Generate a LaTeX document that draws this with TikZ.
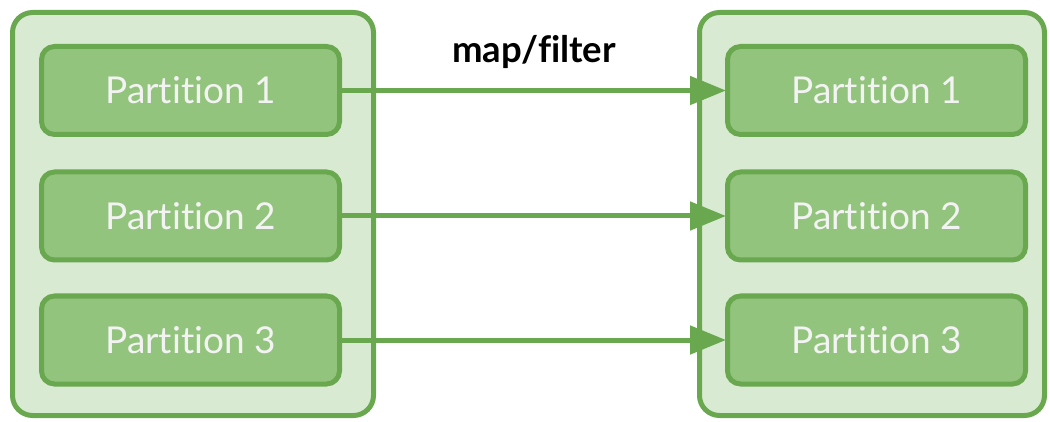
\documentclass[tikz,border=0pt]{standalone}
\usepackage{fontspec}
\setmainfont{Lato}[Ligatures=NoCommon]
\usetikzlibrary{arrows.meta}
\definecolor{edgegreen}{HTML}{6AA84F}
\definecolor{panelgreen}{HTML}{D9EAD3}
\definecolor{partgreen}{HTML}{93C47D}
\definecolor{parttext}{HTML}{F3F3F3}
\tikzset{
  panel/.style={draw=edgegreen, fill=panelgreen, line width=5pt, rounded corners=20pt,
    minimum width=#1, minimum height=403pt, inner sep=0pt},
  part/.style={draw=edgegreen, fill=partgreen, line width=5pt, rounded corners=13pt,
    minimum width=298pt, minimum height=88pt, inner sep=0pt,
    text=parttext, font=\fontsize{37}{40}\selectfont},
  flow/.style={draw=edgegreen, line width=5pt,
    -{Triangle[length=36pt,width=28pt]}, shorten >=-1pt},
  caption/.style={font=\fontsize{36.5}{40}\selectfont\bfseries, text=black}
}
\begin{document}
\begin{tikzpicture}[x=1pt, y=-1pt]
  \useasboundingbox (0,0) rectangle (1050,422);
  % source and target containers
  \node[panel=361pt] (src) at (193,214) {};
  \node[panel=345pt] (dst) at (872,214) {};
  % partitions on each side
  \node[part] (s1) at (190.5,90.5) {Partition 1};
  \node[part] (s2) at (190.5,216) {Partition 2};
  \node[part] (s3) at (190.5,340) {Partition 3};
  \node[part] (d1) at (876.5,90.5) {Partition 1};
  \node[part] (d2) at (876.5,216) {Partition 2};
  \node[part] (d3) at (876.5,340) {Partition 3};
  % one-to-one transformation
  \draw[flow] (s1.east) -- (d1.west);
  \draw[flow] (s2.east) -- (d2.west);
  \draw[flow] (s3.east) -- (d3.west);
  \node[caption] (op) at (534,52) {map/filter};
\end{tikzpicture}
\end{document}
